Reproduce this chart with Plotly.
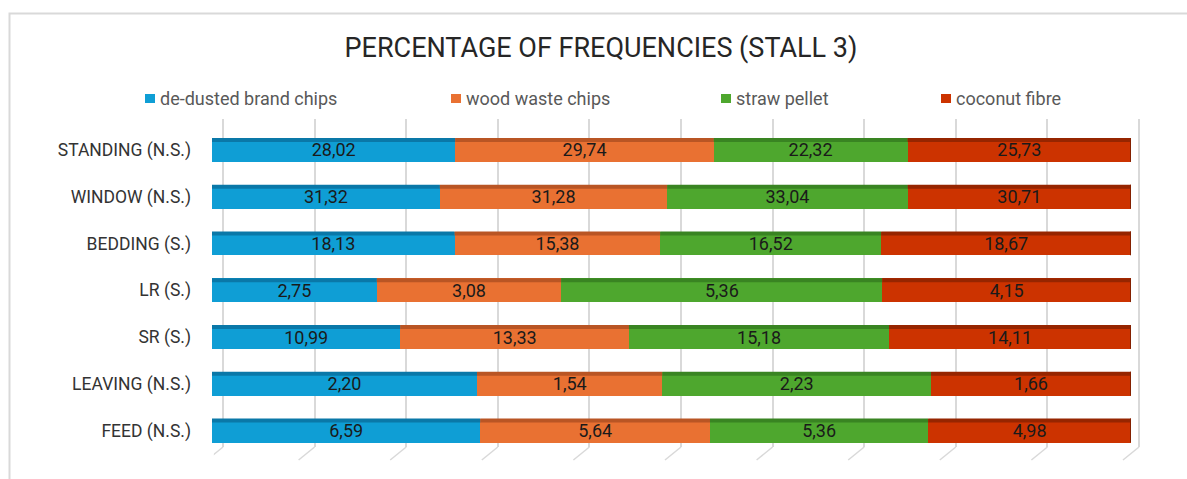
import plotly.graph_objects as go

# ---- data -------------------------------------------------------------
categories = ["STANDING (N.S.)", "WINDOW (N.S.)", "BEDDING (S.)", "LR (S.)",
              "SR (S.)", "LEAVING (N.S.)", "FEED (N.S.)"]
series_names = ["de-dusted brand chips", "wood waste chips", "straw pellet", "coconut fibre"]
dedusted_brand_chips = [28.02, 31.32, 18.13, 2.75, 10.99, 2.20, 6.59]
wood_waste_chips = [29.74, 31.28, 15.38, 3.08, 13.33, 1.54, 5.64]
straw_pellet = [22.32, 33.04, 16.52, 5.36, 15.18, 2.23, 5.36]
coconut_fibre = [25.73, 30.71, 18.67, 4.15, 14.11, 1.66, 4.98]
grid_ticks = [0, 10, 20, 30, 40, 50, 60, 70, 80, 90, 100]

# ---- styling ----------------------------------------------------------
W, H = 1187, 479
face_colors = ["#0F9ED5", "#E97132", "#4EA72E", "#CC3300"]
top_colors = ["#0A78A8", "#B95524", "#398422", "#962500"]
cap_color = "#842000"
FONT = "Roboto"


def px_x(p):
    return p / W


def px_y(p):
    return 1 - p / H


all_series = [dedusted_brand_chips, wood_waste_chips, straw_pellet, coconut_fibre]
totals = [sum(s[i] for s in all_series) for i in range(len(categories))]

# back-wall grid axis: 0..100 spans x=223..1139 px; padded by one unit each
# side so the 0 and 100 lines are not treated as edge lines
grid_left, grid_right = 223, 1139
unit_px = (grid_right - grid_left) / 100

fig = go.Figure()

fig.add_trace(go.Scatter(x=[0, 100], y=[0, 0], mode="markers",
                         marker=dict(opacity=0), showlegend=False,
                         hoverinfo="skip", xaxis="x", yaxis="y"))

# 100% stacked bars
for name, vals, col in zip(series_names, all_series, face_colors):
    fig.add_trace(go.Bar(
        y=categories, x=vals, name=name, orientation="h",
        marker=dict(color=col, line=dict(width=0)),
        text=[f"{v:.2f}".replace(".", ",") for v in vals],
        textposition="inside", insidetextanchor="middle",
        textangle=0, constraintext="none",
        insidetextfont=dict(family=FONT, size=18, color="#1A1A1A"),
        showlegend=False, xaxis="x2", yaxis="y2",
    ))

shapes = []
# outer chart frame
shapes.append(dict(type="rect", xref="paper", yref="paper",
                   x0=px_x(9.5), x1=px_x(1300), y0=px_y(13.5), y1=px_y(600),
                   line=dict(color="#D9D9D9", width=2), layer="below"))

# floor lines under every grid line
grid_bottom = px_y(447)
for t in grid_ticks:
    shapes.append(dict(type="line", xref="x", yref="paper",
                       xsizemode="pixel", xanchor=t + 1e-9, x0=0, x1=-16,
                       ysizemode="pixel", yanchor=grid_bottom, y0=0, y1=-13,
                       line=dict(color="#D9D9D9", width=1.5), layer="below"))

# darker top face on each bar segment, and the end cap
for i, cat in enumerate(categories):
    start = 0.0
    for vals, tcol in zip(all_series, top_colors):
        pct = vals[i] / totals[i] * 100
        shapes.append(dict(type="rect", xref="x2", yref="y2",
                           x0=start, x1=start + pct,
                           ysizemode="pixel", yanchor=cat, y0=8, y1=12,
                           fillcolor=tcol, line=dict(width=0), layer="above"))
        start += pct
    shapes.append(dict(type="path", xref="x2", yref="y2",
                       xsizemode="pixel", xanchor=100,
                       ysizemode="pixel", yanchor=cat,
                       path="M-1,12 L4,12 L4,-9 L-1,-12 Z",
                       fillcolor=cap_color, line=dict(width=0), layer="above"))

# legend: swatch + label for each series
legend_text_x = [160, 466, 736, 956]
legend_y = 98.5
annotations = []
for name, col, tx in zip(series_names, face_colors, legend_text_x):
    shapes.append(dict(type="rect", xref="paper", yref="paper",
                       x0=px_x(tx - 15), x1=px_x(tx - 5),
                       y0=px_y(legend_y - 4.5), y1=px_y(legend_y + 4.5),
                       fillcolor=col, line=dict(width=0)))
    annotations.append(dict(text=name, xref="paper", yref="paper",
                            x=px_x(tx - 2), y=px_y(legend_y), xanchor="left",
                            yanchor="middle", showarrow=False,
                            font=dict(family=FONT, size=18, color="#595959")))

fig.update_layout(
    width=W, height=H,
    margin=dict(l=0, r=0, t=0, b=0),
    paper_bgcolor="white", plot_bgcolor="rgba(0,0,0,0)",
    barmode="stack", barnorm="percent", bargap=0.487,
    title=dict(text="PERCENTAGE OF FREQUENCIES (STALL 3)",
               x=px_x(601), xanchor="center", y=px_y(48), yanchor="middle",
               font=dict(family=FONT, size=27, color="#262626")),
    xaxis=dict(domain=[px_x(grid_left - unit_px), px_x(grid_right + unit_px)],
               range=[-1, 101],
               tickvals=grid_ticks, showgrid=True, gridcolor="#D9D9D9",
               gridwidth=1.5, zeroline=False, showticklabels=False,
               ticks="", showline=False, fixedrange=True),
    yaxis=dict(domain=[px_y(447), px_y(119)], range=[0, 1], showgrid=False,
               zeroline=False, showticklabels=False, ticks="", showline=False),
    xaxis2=dict(domain=[px_x(212), px_x(1131)], range=[0, 100], anchor="y2",
                showgrid=False, zeroline=False, showticklabels=False,
                ticks="", showline=False),
    yaxis2=dict(domain=[px_y(453.9), px_y(126.6)], anchor="x2",
                categoryorder="array", categoryarray=categories[::-1],
                range=[-0.5, len(categories) - 0.5],
                showgrid=False, zeroline=False, ticks="", showline=False,
                ticklabelstandoff=20,
                tickfont=dict(family=FONT, size=17.5, color="#333333")),
    shapes=shapes, annotations=annotations,
)

fig.write_html("out.html")
